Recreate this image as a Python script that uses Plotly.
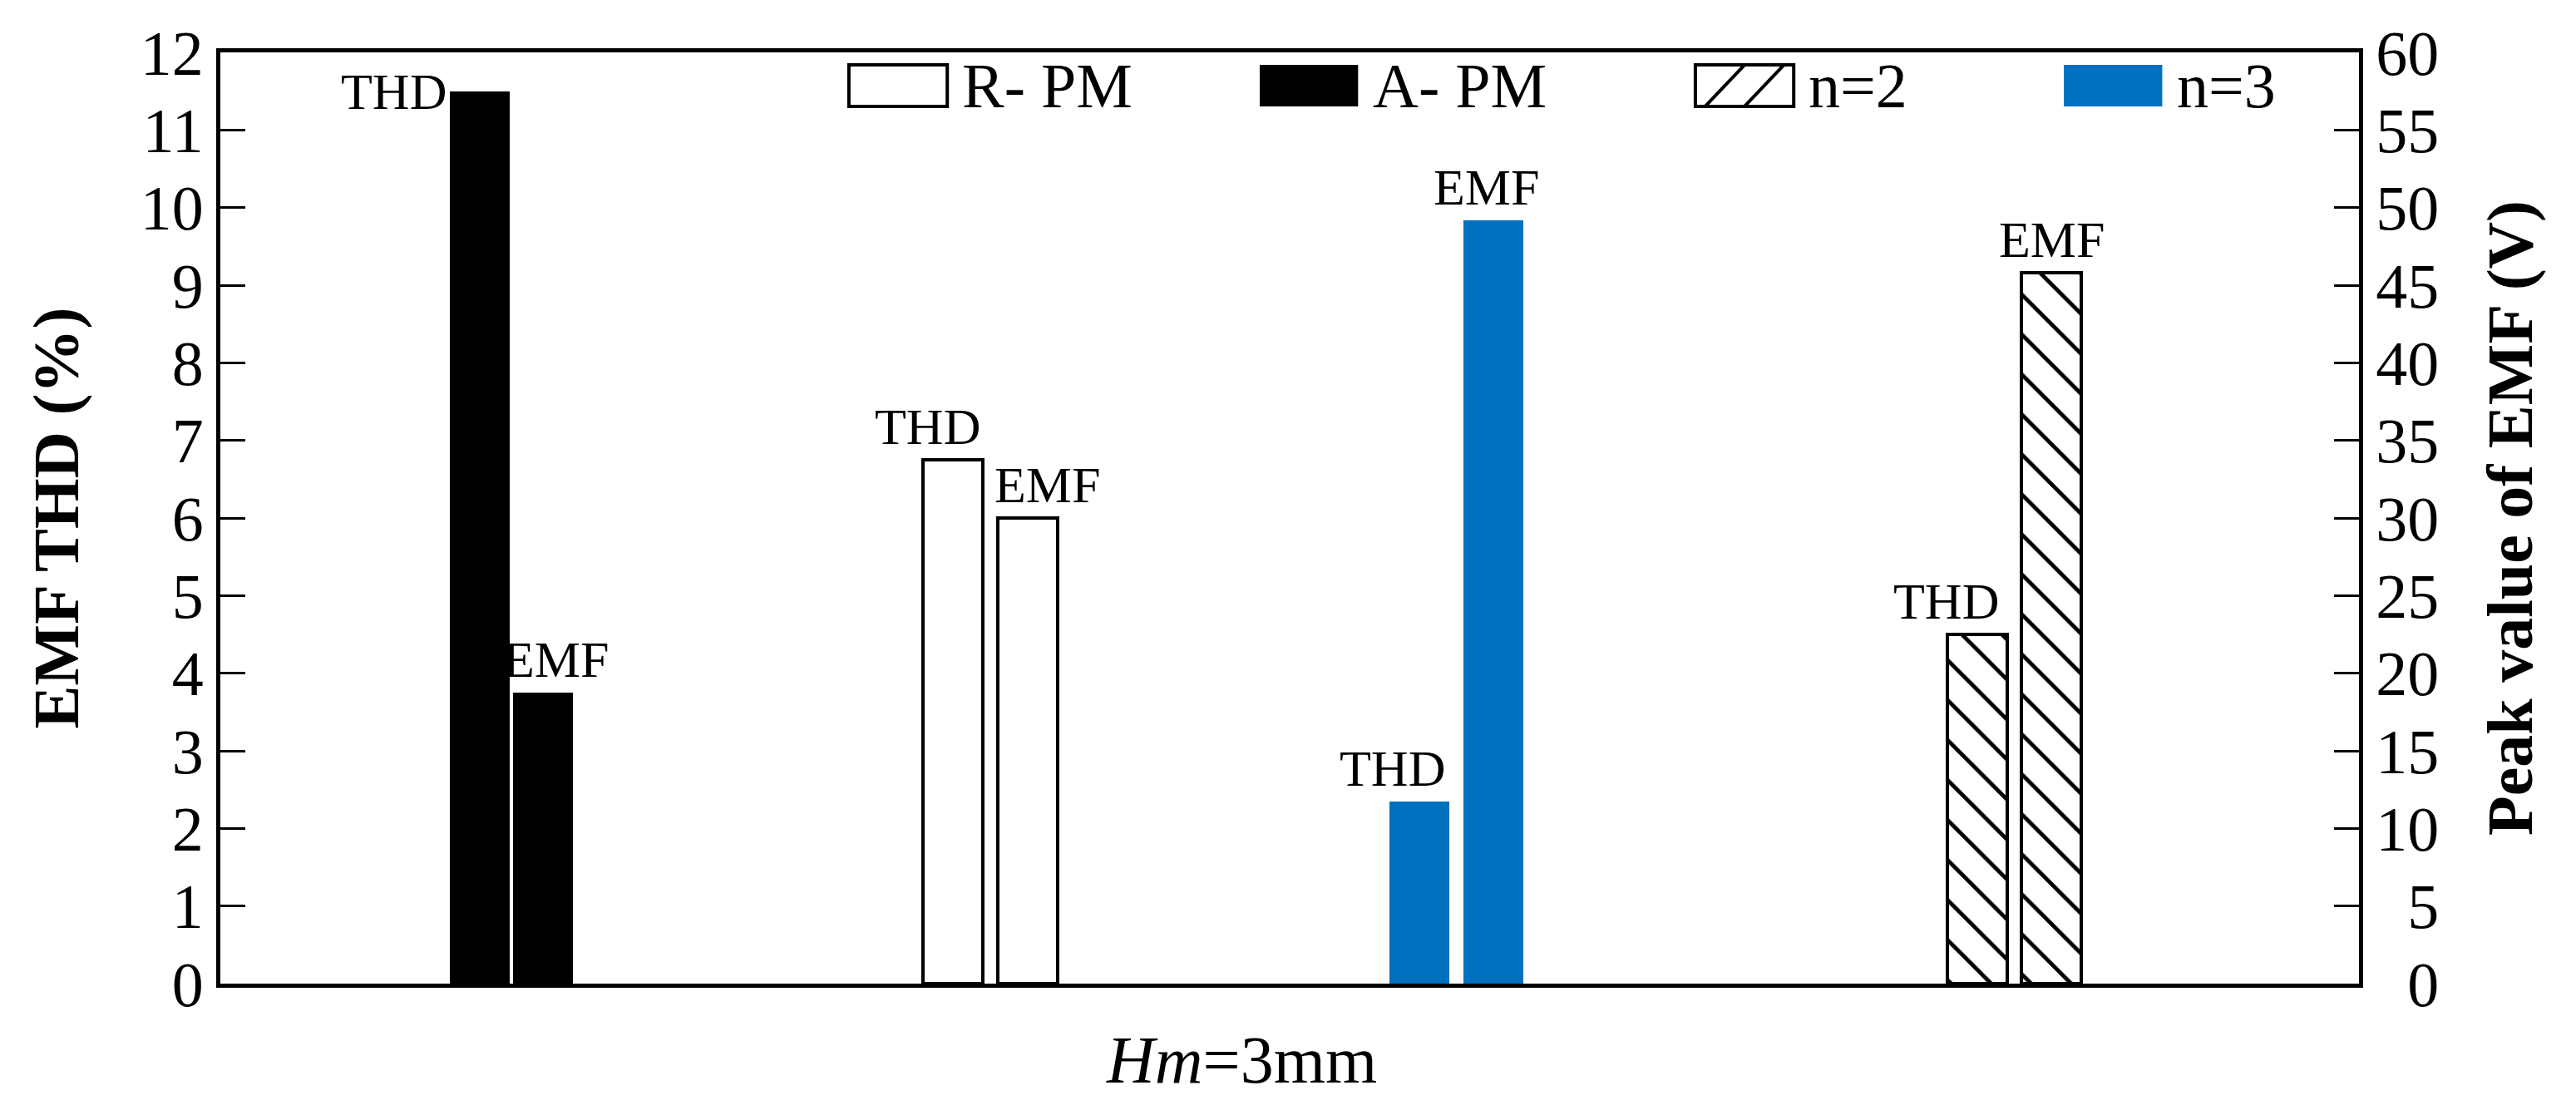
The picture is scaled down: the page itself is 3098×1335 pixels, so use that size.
import plotly.graph_objects as go

# series (legend order)
series = ['R- PM', 'A- PM', 'n=2', 'n=3']
thd = [6.75, 11.5, 4.5, 2.35]       # EMF THD (%)  -> left axis
emf = [30.0, 18.75, 45.8, 49.2]     # peak value of EMF (V) -> right axis

# where each group sits on the (hidden) x axis
group_pos = [3.60, 1.36, 8.39, 5.78]
half_gap = [0.035, 0.008, 0.033, 0.033]
bar_w = 0.28

blue = '#0070C0'
styles = [
    dict(color='white', line=dict(color='black', width=4)),
    dict(color='black', line=dict(color='black', width=0)),
    dict(color='white', line=dict(color='black', width=4),
         pattern=dict(shape='\\', fgcolor='black', bgcolor='white', fgopacity=1,
                      size=34, solidity=0.14)),
    dict(color=blue, line=dict(color=blue, width=0)),
]

# label nudges (px) so THD / EMF text sits like the original
thd_shift = [-30, 0, -38, -33]
emf_shift = [24, 16, 0, -9]

serif = 'Liberation Serif'

fig = go.Figure()
ann = []
for i, name in enumerate(series):
    x_thd = group_pos[i] - half_gap[i] - bar_w / 2
    x_emf = group_pos[i] + half_gap[i] + bar_w / 2
    fig.add_trace(go.Bar(x=[x_thd], y=[thd[i]], width=bar_w, marker=styles[i],
                         name=name, yaxis='y', showlegend=False))
    fig.add_trace(go.Bar(x=[x_emf], y=[emf[i]], width=bar_w, marker=styles[i],
                         name=name, yaxis='y2', showlegend=False))
    if thd[i] > 11:
        # no room above: put label left of the bar top
        ann.append(dict(x=x_thd - bar_w / 2, y=thd[i], xref='x', yref='y', text='THD',
                        xanchor='right', yanchor='middle', showarrow=False, xshift=-2))
    else:
        ann.append(dict(x=x_thd, y=thd[i], xref='x', yref='y', text='THD',
                        xanchor='center', yanchor='bottom', showarrow=False,
                        xshift=thd_shift[i], yshift=4))
    ann.append(dict(x=x_emf, y=emf[i], xref='x', yref='y2', text='EMF',
                    xanchor='center', yanchor='bottom', showarrow=False,
                    xshift=emf_shift[i], yshift=4))

for a in ann:
    a['font'] = dict(family=serif, size=62, color='black')

# hand made legend (big swatches like the original)
leg_x = [0.2939, 0.4860, 0.6897, 0.8620]
sw_w = 0.046
sw_y0, sw_y1 = 0.942, 0.9866
shapes = []
for i, name in enumerate(series):
    x0 = leg_x[i]
    x1 = x0 + sw_w
    st = styles[i]
    lw = 4 if st['color'] == 'white' else 0
    shapes.append(dict(type='rect', xref='paper', yref='paper', x0=x0, x1=x1,
                       y0=sw_y0, y1=sw_y1, fillcolor=st['color'],
                       line=dict(color='black', width=lw)))
    if 'pattern' in st:
        for a0, a1 in [(0.1, 0.5), (0.5, 0.9)]:
            shapes.append(dict(type='line', xref='paper', yref='paper',
                               x0=x0 + a0 * sw_w, x1=x0 + a1 * sw_w, y0=sw_y0, y1=sw_y1,
                               line=dict(color='black', width=4)))
    ann.append(dict(x=x1, y=(sw_y0 + sw_y1) / 2, xref='paper', yref='paper', text=name,
                    xanchor='left', yanchor='middle', xshift=16, showarrow=False,
                    font=dict(family=serif, size=76, color='black')))

ann.append(dict(x=0.4775, y=-0.082, xref='paper', yref='paper', text='<i>Hm</i>=3mm',
                xanchor='center', yanchor='middle', showarrow=False,
                font=dict(family=serif, size=80, color='black')))

tick_font = dict(family=serif, size=76, color='black')
title_font = dict(family=serif, size=78, color='black')

right_vals = list(range(0, 61, 5))
right_text = [('\u2007' + str(v)) if v < 10 else str(v) for v in right_vals]

fig.update_layout(
    width=3098, height=1335,
    margin=dict(l=265, r=261, t=63, b=152),
    plot_bgcolor='white', paper_bgcolor='white',
    barmode='overlay', bargap=0,
    showlegend=False,
    annotations=ann, shapes=shapes,
    xaxis=dict(range=[0, 10], showticklabels=False, ticks='', showgrid=False,
               zeroline=False, showline=True, linecolor='black', linewidth=5, mirror=True),
    yaxis=dict(range=[0, 12], dtick=1, tick0=0, ticks='inside', ticklen=30, tickwidth=3,
               tickcolor='black', showgrid=False, zeroline=False, showline=True,
               linecolor='black', linewidth=5, tickfont=tick_font,
               title=dict(text='<b>EMF THD (%)</b>', font=title_font, standoff=50)),
    yaxis2=dict(range=[0, 60], overlaying='y', side='right', tickmode='array',
                tickvals=right_vals, ticktext=right_text, ticks='inside', ticklen=30,
                tickwidth=3, tickcolor='black', showgrid=False, zeroline=False,
                showline=True, linecolor='black', linewidth=5, tickfont=tick_font,
                title=dict(text='<b>Peak value of EMF (V)</b>', font=title_font, standoff=60)),
)

fig.write_html("out.html", config={'displayModeBar': False},
               post_script="document.body.style.margin='0';")
